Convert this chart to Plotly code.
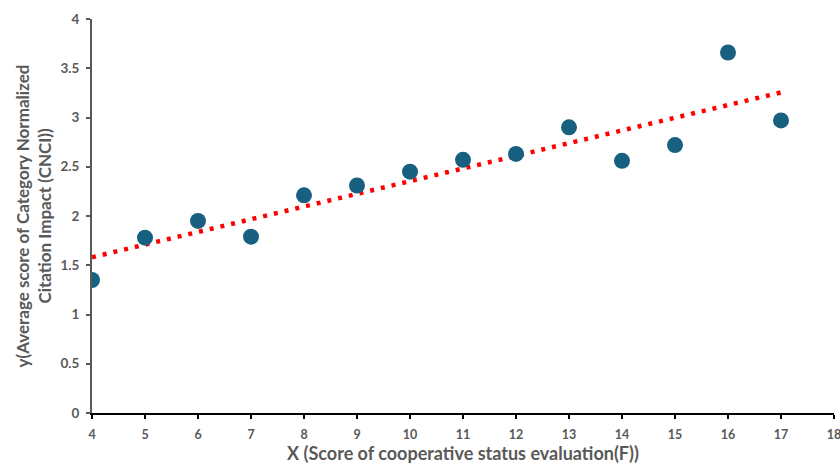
import numpy as np
import plotly.graph_objects as go

x_vals = [4, 5, 6, 7, 8, 9, 10, 11, 12, 13, 14, 15, 16, 17]
y_vals = [1.35, 1.78, 1.95, 1.79, 2.21, 2.31, 2.45, 2.57, 2.63, 2.90, 2.56, 2.72, 3.66, 2.97]
x_ticks = list(range(4, 19))
y_ticks = [0, 0.5, 1, 1.5, 2, 2.5, 3, 3.5, 4]

slope, intercept = np.polyfit(x_vals, y_vals, 1)
trend_x = [min(x_vals), max(x_vals)]
trend_y = [slope * v + intercept for v in trend_x]

fig = go.Figure()
fig.add_trace(go.Scatter(x=trend_x, y=trend_y, mode="lines",
                         line=dict(color="#ff0000", width=4.5, dash="4px,7px"),
                         hoverinfo="skip", showlegend=False))
fig.add_trace(go.Scatter(x=x_vals, y=y_vals, mode="markers",
                         marker=dict(color="#17607f", size=16, line=dict(width=0)),
                         showlegend=False))

xtick_font = dict(family="Lato, Open Sans, sans-serif", size=12.5, color="#595959", weight="bold")
ytick_font = dict(family="Lato, Open Sans, sans-serif", size=13.5, color="#595959", weight="bold")
xtitle_font = dict(family="Lato, Open Sans, sans-serif", size=18, color="#595959", weight="bold")
ytitle_font = dict(family="Lato, Open Sans, sans-serif", size=17, color="#595959", weight="bold")

fig.update_layout(
    width=840, height=470,
    margin=dict(l=92, r=6, t=19, b=57, autoexpand=False),
    paper_bgcolor="white", plot_bgcolor="white",
    xaxis=dict(range=[4, 18], tickvals=x_ticks, showgrid=False, zeroline=False,
               showline=True, linecolor="#000000", linewidth=2,
               ticks="outside", ticklen=4, tickcolor="#000000", tickwidth=1.5,
               tickfont=xtick_font, ticklabeloverflow="allow", ticklabelstandoff=5,
               automargin=False,
               title=dict(text="X (Score of cooperative status evaluation(F))", font=xtitle_font, standoff=6)),
    yaxis=dict(range=[0, 4], tickvals=y_ticks, showgrid=False, zeroline=False,
               showline=True, linecolor="#595959", linewidth=2,
               ticks="outside", ticklen=4, tickcolor="#595959", tickwidth=1.5,
               tickfont=ytick_font, ticklabelstandoff=4, automargin=False,
               title=dict(text="y(Average score of Category Normalized<br>Citation Impact (CNCI))", font=ytitle_font, standoff=4)),
)

fig.write_html("out.html")
